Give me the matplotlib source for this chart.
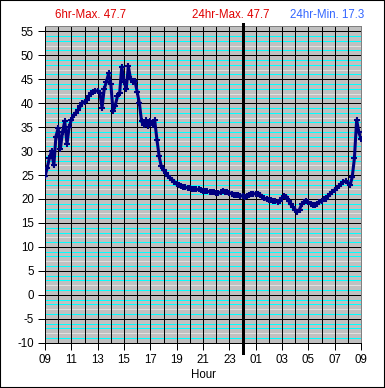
import matplotlib
matplotlib.use("Agg")
import matplotlib.pyplot as plt
from matplotlib.patches import Rectangle
import numpy as np

plt.rcParams['font.family'] = ['Liberation Sans', 'DejaVu Sans']

# hours after 09:00
hours = [0.00, 0.17, 0.33, 0.50, 0.67, 0.83, 1.00, 1.17, 1.33, 1.50, 1.67, 1.83,
         2.00, 2.17, 2.33, 2.50, 2.67, 2.83, 3.00, 3.17, 3.33, 3.50, 3.67, 3.83,
         4.00, 4.17, 4.33, 4.50, 4.67, 4.83, 5.00, 5.17, 5.33, 5.50, 5.67, 5.83,
         6.00, 6.17, 6.33, 6.50, 6.67, 6.83, 7.00, 7.17, 7.33, 7.50, 7.67, 7.83,
         8.00, 8.17, 8.33, 8.50, 8.67, 8.83, 9.00, 9.17, 9.33, 9.50, 9.67, 9.83,
         10.00, 10.17, 10.33, 10.50, 10.67, 10.83, 11.00, 11.17, 11.33, 11.50, 11.67, 11.83,
         12.00, 12.17, 12.33, 12.50, 12.67, 12.83, 13.00, 13.17, 13.33, 13.50, 13.67, 13.83,
         14.00, 14.17, 14.33, 14.50, 14.67, 14.83, 15.00, 15.17, 15.33, 15.50, 15.67, 15.83,
         16.00, 16.17, 16.33, 16.50, 16.67, 16.83, 17.00, 17.17, 17.33, 17.50, 17.67, 17.83,
         18.00, 18.17, 18.33, 18.50, 18.67, 18.83, 19.00, 19.17, 19.33, 19.50, 19.67, 19.83,
         20.00, 20.17, 20.33, 20.50, 20.67, 20.83, 21.00, 21.17, 21.33, 21.50, 21.67, 21.83,
         22.00, 22.17, 22.33, 22.50, 22.67, 22.83, 23.00, 23.17, 23.33, 23.50, 23.67, 23.83,
         24.00]
temps = [24.7, 26.5, 28.5, 30.0, 27.0, 33.0, 34.8, 30.5, 34.0, 36.2, 31.5, 35.0,
         36.5, 37.5, 38.0, 38.5, 39.3, 40.0, 40.3, 40.6, 41.5, 42.1, 42.3, 42.5,
         42.6, 42.2, 39.0, 43.0, 44.5, 46.2, 44.0, 38.3, 39.5, 41.4, 42.1, 47.6,
         44.5, 43.0, 47.7, 45.0, 44.5, 44.7, 42.4, 40.0, 36.2, 35.5, 36.5, 35.3,
         36.2, 35.5, 36.5, 32.4, 28.9, 26.8, 26.0, 25.4, 24.8, 24.4, 24.0, 23.6,
         23.1, 23.0, 22.7, 22.5, 22.4, 22.3, 22.2, 22.1, 22.1, 22.0, 22.0, 21.8,
         21.7, 21.6, 21.6, 21.5, 21.5, 21.4, 21.3, 21.2, 21.4, 21.6, 21.5, 21.4,
         21.3, 21.1, 20.9, 20.8, 20.8, 20.7, 20.6, 20.5, 20.6, 20.8, 21.0, 21.1,
         21.1, 21.0, 20.9, 20.5, 20.1, 19.9, 19.8, 19.7, 19.5, 19.5, 19.4, 19.6,
         20.2, 20.7, 20.5, 19.6, 18.9, 18.3, 17.8, 17.3, 17.8, 18.9, 19.4, 19.5,
         19.3, 19.0, 18.8, 18.8, 19.0, 19.3, 19.6, 19.9, 20.0, 20.6, 21.1, 21.5,
         21.9, 22.3, 22.7, 23.2, 23.6, 23.7, 23.3, 22.9, 24.5, 28.5, 36.5, 34.0,
         32.5]

xtick_labels = ['09', '11', '13', '15', '17', '19', '21', '23', '01', '03', '05', '07', '09']
ytick_values = list(range(-10, 60, 5))
header_texts = ['6hr-Max. 47.7', '24hr-Max. 47.7', '24hr-Min. 17.3']

W, H = 385, 388
PX = 0.72  # one pixel in points at dpi 100
fig = plt.figure(figsize=(W / 100, H / 100), dpi=100)
fig.patch.set_facecolor('white')
fig.patches.append(Rectangle((0, 0), 1, 1, transform=fig.transFigure, fill=False,
                             edgecolor='black', linewidth=1.5, zorder=10))

left, right = 45 / W, 361 / W
top, bottom = 26 / H, 342.7 / H
ax = fig.add_axes([left, 1 - bottom, right - left, bottom - top])
ax.set_facecolor('#C0C0C0')
ax.set_xlim(0, 24)
ax.set_ylim(-10, 56.1)

# minor horizontal lines (every unit)
for base in range(-10, 56, 5):
    for off, col in [(1, '#00FFFF'), (2, '#E0E0E0'), (3, '#00FFFF'), (4, '#00FFFF')]:
        v = base + off
        if v < 56.1:
            ax.axhline(v, color=col, lw=PX, zorder=1, antialiased=False)
# major grid
for v in ytick_values:
    ax.axhline(v, color='black', lw=PX, zorder=2, antialiased=False)
for h in range(1, 24):
    ax.axvline(h, color='black', lw=PX, zorder=2, antialiased=False)
ax.axvline(15, color='black', lw=3 * PX, zorder=3, ymin=-0.032, ymax=1.006, clip_on=False,
           antialiased=False)

ax.plot(hours, temps, color='#000080', lw=2.2, marker='+', ms=4.5, mew=1.5, zorder=5)

ax.set_yticks(ytick_values)
ax.set_yticklabels([str(v) for v in ytick_values], fontsize=8.3)
ax.set_xticks(range(0, 25, 2))
ax.set_xticklabels(xtick_labels, fontsize=8.3)
ax.tick_params(axis='both', length=5, width=PX, color='black', pad=3)
ax.set_xlabel('Hour', fontsize=8.3, labelpad=2)

for s in ['top', 'right']:
    ax.spines[s].set_color('#808080')
    ax.spines[s].set_linewidth(PX)
for s in ['left', 'bottom']:
    ax.spines[s].set_color('black')
    ax.spines[s].set_linewidth(PX)

fig.text(55 / W, 1 - 15 / H, header_texts[0], color='#E00000', fontsize=8.3, ha='left', va='center')
fig.text(192 / W, 1 - 15 / H, header_texts[1], color='#E00000', fontsize=8.3, ha='left', va='center')
fig.text(290 / W, 1 - 15 / H, header_texts[2], color='#3366FF', fontsize=8.3, ha='left', va='center')

fig.savefig('out.png', dpi=100)
